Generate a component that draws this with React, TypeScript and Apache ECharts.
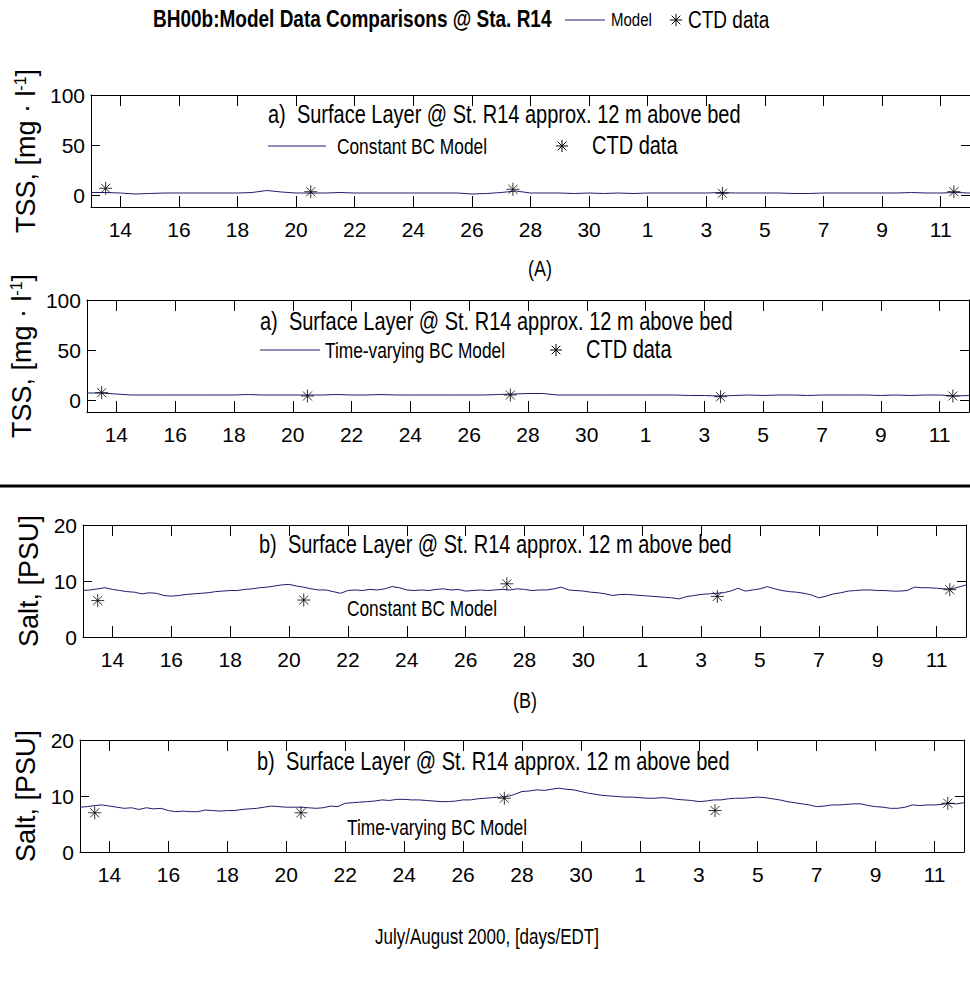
import React, { useEffect, useRef } from "react";
import * as echarts from "echarts";

const FONT = '"Liberation Sans", Arial, Helvetica, sans-serif';
const NAVY = "#1e1e6e";
const SY = 1.25;

// x axis: day of July (Aug 1 = 32)
const tickDays = [14, 16, 18, 20, 22, 24, 26, 28, 30, 32, 34, 36, 38, 40, 42];
const tickLabels = ["14", "16", "18", "20", "22", "24", "26", "28", "30", "1", "3", "5", "7", "9", "11"];
const tssTicks = [0, 50, 100];
const saltTicks = [0, 10, 20];

const tssDays = [
  13.0, 13.5, 14.0, 14.5, 15.0, 15.5, 16.0, 16.5, 17.0, 17.5, 18.0, 18.5, 19.0, 19.5, 20.0, 20.5,
  21.0, 21.5, 22.0, 22.5, 23.0, 23.5, 24.0, 24.5, 25.0, 25.5, 26.0, 26.5, 27.0, 27.5, 28.0, 28.5,
  29.0, 29.5, 30.0, 30.5, 31.0, 31.5, 32.0, 32.5, 33.0, 33.5, 34.0, 34.5, 35.0, 35.5, 36.0, 36.5,
  37.0, 37.5, 38.0, 38.5, 39.0, 39.5, 40.0, 40.5, 41.0, 41.5, 42.0, 42.5, 43.0,
];
const tssConstant = [
  2.5, 2.5, 2.0, 1.0, 1.5, 2.0, 2.0, 2.0, 2.0, 2.0, 2.0, 2.5, 4.5, 3.0, 2.0, 2.0,
  2.0, 2.5, 2.0, 2.0, 2.0, 2.0, 2.0, 2.0, 2.0, 2.0, 1.0, 1.5, 2.5, 4.0, 2.0, 2.0,
  2.0, 1.5, 2.0, 1.5, 2.0, 1.5, 2.0, 2.0, 2.0, 2.0, 2.0, 2.5, 2.0, 2.0, 2.0, 2.0,
  1.5, 1.5, 2.0, 2.0, 2.0, 2.0, 2.0, 2.0, 2.5, 2.0, 2.0, 2.5, 2.0,
];
const tssTimeVarying = [
  7.0, 7.0, 6.0, 5.0, 5.0, 5.0, 5.0, 5.0, 5.0, 5.0, 5.0, 5.5, 5.0, 5.0, 5.0, 5.0,
  5.0, 5.5, 5.0, 5.0, 5.5, 5.0, 5.0, 5.0, 5.0, 5.0, 5.0, 5.0, 5.5, 6.0, 6.5, 6.5,
  5.0, 5.0, 5.0, 5.0, 5.0, 5.0, 5.0, 5.0, 5.0, 4.5, 4.5, 4.0, 4.5, 5.0, 4.5, 5.0,
  5.0, 4.5, 5.0, 5.0, 5.0, 5.0, 4.5, 5.0, 4.5, 5.0, 5.0, 4.0, 4.5,
];

const saltDays = [
  13.0, 13.25, 13.5, 13.75, 14.0, 14.25, 14.5, 14.75, 15.0, 15.25, 15.5, 15.75,
  16.0, 16.25, 16.5, 16.75, 17.0, 17.25, 17.5, 17.75, 18.0, 18.25, 18.5, 18.75,
  19.0, 19.25, 19.5, 19.75, 20.0, 20.25, 20.5, 20.75, 21.0, 21.25, 21.5, 21.75,
  22.0, 22.25, 22.5, 22.75, 23.0, 23.25, 23.5, 23.75, 24.0, 24.25, 24.5, 24.75,
  25.0, 25.25, 25.5, 25.75, 26.0, 26.25, 26.5, 26.75, 27.0, 27.25, 27.5, 27.75,
  28.0, 28.25, 28.5, 28.75, 29.0, 29.25, 29.5, 29.75, 30.0, 30.25, 30.5, 30.75,
  31.0, 31.25, 31.5, 31.75, 32.0, 32.25, 32.5, 32.75, 33.0, 33.25, 33.5, 33.75,
  34.0, 34.25, 34.5, 34.75, 35.0, 35.25, 35.5, 35.75, 36.0, 36.25, 36.5, 36.75,
  37.0, 37.25, 37.5, 37.75, 38.0, 38.25, 38.5, 38.75, 39.0, 39.25, 39.5, 39.75,
  40.0, 40.25, 40.5, 40.75, 41.0, 41.25, 41.5, 41.75, 42.0, 42.25, 42.5, 42.75, 43.0,
];
const saltConstant = [
  8.3, 8.4, 8.6, 8.8, 8.5, 8.3, 8.1, 8.0, 7.7, 7.9, 7.8, 7.4,
  7.3, 7.4, 7.6, 7.7, 7.8, 7.9, 8.1, 8.2, 8.3, 8.3, 8.5, 8.6,
  8.8, 8.9, 9.1, 9.3, 9.4, 9.1, 8.9, 8.6, 8.4, 8.4, 8.1, 7.8,
  8.3, 8.4, 8.3, 8.5, 8.4, 8.6, 9.0, 8.8, 8.4, 8.3, 8.4, 8.3,
  8.5, 8.6, 8.4, 8.5, 8.2, 8.3, 8.4, 8.3, 8.4, 8.5, 8.4, 8.6,
  8.5, 8.3, 8.4, 8.4, 8.6, 8.9, 8.4, 8.3, 8.2, 8.0, 7.9, 7.7,
  7.4, 7.6, 7.6, 7.5, 7.4, 7.3, 7.2, 7.1, 7.0, 6.8, 7.2, 7.4,
  7.6, 7.7, 7.8, 7.9, 8.2, 8.7, 8.2, 8.4, 8.6, 9.0, 8.6, 8.3,
  8.1, 8.0, 7.8, 7.5, 7.0, 7.3, 7.7, 7.9, 8.2, 8.3, 8.4, 8.4,
  8.3, 8.3, 8.2, 8.2, 8.3, 8.9, 8.8, 8.8, 8.7, 8.6, 8.6, 8.9, 9.3,
];
const saltTimeVarying = [
  8.0, 8.1, 8.3, 8.4, 8.2, 8.0, 7.8, 7.9, 7.6, 7.9, 7.7, 7.8,
  7.4, 7.2, 7.3, 7.2, 7.2, 7.5, 7.4, 7.3, 7.4, 7.4, 7.6, 7.7,
  7.8, 8.0, 8.2, 8.1, 8.0, 8.0, 8.0, 7.9, 7.8, 7.9, 8.2, 8.1,
  8.7, 8.8, 8.9, 9.0, 9.1, 9.3, 9.2, 9.4, 9.4, 9.3, 9.3, 9.2,
  9.1, 9.0, 9.0, 9.1, 9.3, 9.3, 9.5, 9.6, 9.7, 9.8, 9.9, 10.3,
  10.8, 10.9, 11.1, 11.0, 11.2, 11.4, 11.2, 11.1, 10.8, 10.5, 10.3, 10.1,
  10.0, 9.9, 9.8, 9.8, 9.7, 9.6, 9.6, 9.7, 9.6, 9.4, 9.3, 9.2,
  9.0, 9.1, 9.3, 9.3, 9.5, 9.6, 9.6, 9.7, 9.8, 9.7, 9.5, 9.3,
  9.0, 8.8, 8.6, 8.4, 8.1, 8.2, 8.4, 8.4, 8.5, 8.6, 8.6, 8.3,
  8.1, 8.0, 7.8, 7.8, 8.0, 8.4, 8.3, 8.4, 8.4, 8.5, 8.7, 8.6, 8.8,
];

const ctdDays = [13.5, 20.5, 27.4, 34.55, 42.45];
const ctdTssA = [6.7, 3.3, 5.7, 1.7, 3.3];
const ctdTssB = [7.3, 4.0, 5.0, 3.3, 4.0];
const ctdSaltA = [6.5, 6.6, 9.5, 7.25, 8.45];
const ctdSaltB = [7.0, 7.0, 9.6, 7.4, 8.7];

const STAR = "path://M50,0L50,100M0,50L100,50M15,15L85,85M85,15L15,85";

const grids = [
  { left: 91, top: 95, width: 884, height: 112 },
  { left: 85, top: 300, width: 884, height: 112 },
  { left: 83, top: 525, width: 883, height: 112 },
  { left: 80, top: 740, width: 884, height: 112 },
];

function xAxes(gi: number) {
  const common = {
    type: "value",
    gridIndex: gi,
    min: 13,
    max: 43,
    axisLine: { show: true, onZero: false, lineStyle: { color: "#000", width: 1 } },
    axisTick: { show: true, inside: true, length: 11, customValues: tickDays, lineStyle: { color: "#000", width: 1 } },
    splitLine: { show: false },
  };
  return [
    {
      ...common,
      position: "bottom",
      axisLabel: {
        customValues: tickDays,
        formatter: (v: number) => {
          const i = tickDays.indexOf(Math.round(v));
          return i >= 0 ? tickLabels[i] : "";
        },
        fontSize: 21,
        fontFamily: FONT,
        color: "#000",
        margin: 12,
      },
    },
    { ...common, position: "top", axisLabel: { show: false } },
  ];
}

function yAxes(gi: number, min: number, max: number, ticks: number[], name: string, nameGap: number, rich?: any) {
  const common = {
    type: "value",
    gridIndex: gi,
    min,
    max,
    axisLine: { show: true, onZero: false, lineStyle: { color: "#000", width: 1 } },
    axisTick: { show: true, inside: true, length: 9, customValues: ticks, lineStyle: { color: "#000", width: 1 } },
    splitLine: { show: false },
  };
  return [
    {
      ...common,
      position: "left",
      axisLabel: { customValues: ticks, fontSize: 21, fontFamily: FONT, color: "#000", margin: 6 },
      name,
      nameLocation: "middle",
      nameRotate: 90,
      nameGap,
      nameTextStyle: { fontSize: 27, fontFamily: FONT, color: "#000", rich },
    },
    { ...common, position: "right", axisLabel: { show: false } },
  ];
}

function txt(x: number, y: number, text: string, size: number, bold = false, align = "left") {
  return {
    type: "text",
    x,
    y,
    scaleY: SY,
    style: {
      text,
      fontSize: size,
      fontFamily: FONT,
      fontWeight: bold ? "bold" : "normal",
      fill: "#000",
      align,
      verticalAlign: "middle",
    },
  };
}

function star(cx: number, cy: number, r: number) {
  const d = r * 0.72;
  const st = { stroke: "#000", lineWidth: 1 };
  return {
    type: "group",
    x: cx,
    y: cy,
    children: [
      { type: "line", shape: { x1: 0, y1: -r, x2: 0, y2: r }, style: st },
      { type: "line", shape: { x1: -r, y1: 0, x2: r, y2: 0 }, style: st },
      { type: "line", shape: { x1: -d, y1: -d, x2: d, y2: d }, style: st },
      { type: "line", shape: { x1: d, y1: -d, x2: -d, y2: d }, style: st },
    ],
  };
}

function hline(x1: number, x2: number, y: number, color: string, w: number) {
  return { type: "line", shape: { x1, y1: y, x2, y2: y }, style: { stroke: color, lineWidth: w } };
}

function lineSeries(gi: number, days: number[], vals: number[]) {
  return {
    type: "line",
    xAxisIndex: gi * 2,
    yAxisIndex: gi * 2,
    data: days.map((d, k) => [d, vals[k]]),
    showSymbol: false,
    symbol: "none",
    lineStyle: { color: NAVY, width: 1 },
    z: 2,
  };
}

function starSeries(gi: number, vals: number[]) {
  return {
    type: "scatter",
    xAxisIndex: gi * 2,
    yAxisIndex: gi * 2,
    data: ctdDays.map((d, k) => [d, vals[k]]),
    symbol: STAR,
    symbolSize: 13,
    itemStyle: { color: "#000", borderColor: "#000", borderWidth: 1 },
    z: 3,
  };
}

const annot = "Surface Layer @ St. R14 approx. 12 m above bed";

export default function App() {
  const ref = useRef<HTMLDivElement>(null);
  useEffect(() => {
    if (!ref.current) return;
    const chart = echarts.init(ref.current, undefined, { renderer: "svg" });
    const supRich = { sup: { fontSize: 16, fontFamily: FONT, verticalAlign: "top", color: "#000" } };
    const option: any = {
      animation: false,
      backgroundColor: "#fff",
      grid: grids.map((g) => ({ ...g, containLabel: false })),
      xAxis: [...xAxes(0), ...xAxes(1), ...xAxes(2), ...xAxes(3)],
      yAxis: [
        ...yAxes(0, -12, 100, tssTicks, "TSS, [mg · l{sup|-1}]", 51, supRich),
        ...yAxes(1, -12, 100, tssTicks, "TSS, [mg · l{sup|-1}]", 48, supRich),
        ...yAxes(2, 0, 20, saltTicks, "Salt, [PSU]", 40),
        ...yAxes(3, 0, 20, saltTicks, "Salt, [PSU]", 37),
      ],
      series: [
        lineSeries(0, tssDays, tssConstant),
        starSeries(0, ctdTssA),
        lineSeries(1, tssDays, tssTimeVarying),
        starSeries(1, ctdTssB),
        lineSeries(2, saltDays, saltConstant),
        starSeries(2, ctdSaltA),
        lineSeries(3, saltDays, saltTimeVarying),
        starSeries(3, ctdSaltB),
      ],
      graphic: [
        txt(153, 19, "BH00b:Model Data Comparisons @ Sta. R14", 19, true),
        hline(565, 605, 20, NAVY, 1),
        txt(611, 20, "Model", 15),
        star(676, 20, 6),
        txt(688, 20, "CTD data", 19),
        // panel 1
        txt(268, 115, "a)  " + annot, 20),
        hline(268, 326, 146, NAVY, 1),
        txt(337, 146, "Constant BC Model", 17.3),
        star(562, 146, 6),
        txt(592, 146, "CTD data", 20),
        txt(528, 268, "(A)", 18),
        // panel 2
        txt(260, 322, "a)  " + annot, 20),
        hline(260, 320, 350, NAVY, 1),
        txt(325, 350, "Time-varying BC Model", 17.3),
        star(556, 350, 6),
        txt(586, 350, "CTD data", 20),
        // separator
        hline(0, 970, 486, "#000", 3),
        // panel 3
        txt(259, 545, "b)  " + annot, 20),
        txt(347, 608, "Constant BC Model", 17.3),
        txt(513, 700, "(B)", 18),
        // panel 4
        txt(257, 762, "b)  " + annot, 20),
        txt(347, 827, "Time-varying BC Model", 17.3),
        txt(487, 937, "July/August 2000, [days/EDT]", 17, false, "center"),
      ],
    };
    chart.setOption(option);
    return () => chart.dispose();
  }, []);
  return (
    <div
      ref={ref}
      style={{ position: "absolute", left: 0, top: 0, width: 970, height: 984, background: "#fff" }}
    />
  );
}
